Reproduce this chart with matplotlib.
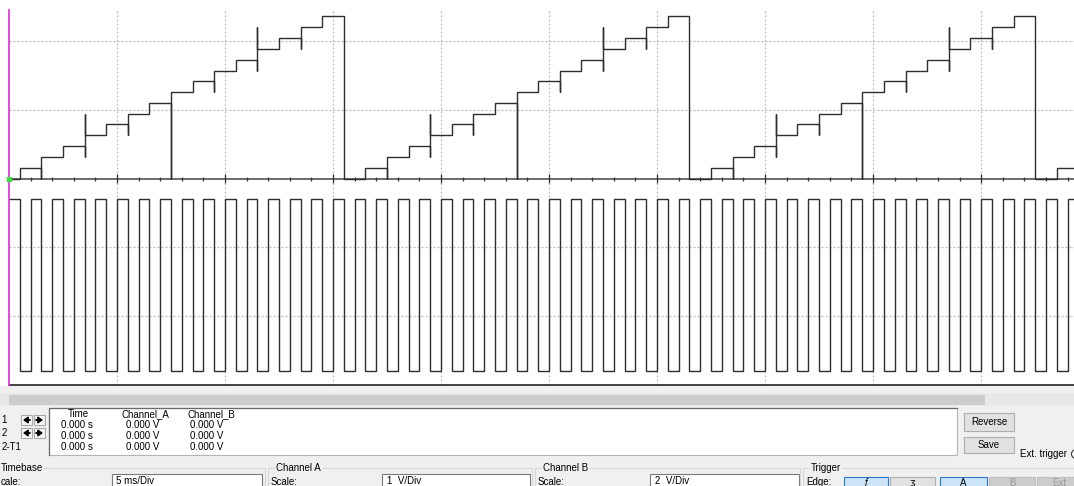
"""Oscilloscope capture: 4-bit DAC staircase (ch A) and its clock (ch B)."""

import matplotlib

matplotlib.use("Agg")
import matplotlib.pyplot as plt  # noqa: E402
import numpy as np  # noqa: E402
from matplotlib.patches import Circle, Rectangle  # noqa: E402

# ---- values ---------------------------------------------------------------
# DAC output levels (V) for codes 0..15
dac_levels = [0.00, 0.16, 0.31, 0.47, 0.63, 0.79, 0.94, 1.10,
              1.26, 1.42, 1.57, 1.73, 1.89, 2.04, 2.20, 2.36]
# glitch on each code step into level 1..15: lowest / highest code touched
glitch_lo = [0, 0, 2, 2, 4, 4, 6, 0, 8, 8, 10, 10, 12, 12, 14]
glitch_hi = [1, 2, 3, 6, 5, 6, 7, 8, 9, 10, 11, 14, 13, 14, 15]
first_edge_ms = 0.5
n_ramps = 4

clk_period_ms = 1.0
clk_high_v = 5.0
clk_low_v = 0.0

timebase_ms = 5.0     # ms/div
cha_scale = 1.0       # V/div
chb_scale = 2.0       # V/div
chb_pos = -2.8        # div
t_span_ms = 49.3

# row labels as visible (left edge of the window is cropped)
readout_rows = ["1", "2", "2-T1"]
readout_time = ["0.000 s", "0.000 s", "0.000 s"]
readout_cha = ["0.000 V", "0.000 V", "0.000 V"]
readout_chb = ["0.000 V", "0.000 V", "0.000 V"]

INK = "#2e2e2e"
GRID = "#bcbcbc"
UI_BG = "#f0f0f0"
FONT = "Liberation Sans"

W, H = 1074, 486
fig = plt.figure(figsize=(W / 100, H / 100), dpi=100)

# ---- instrument panel (pixel coords) ---------------------------------------
ui = fig.add_axes([0, 0, 1, 1])
ui.set_xlim(0, W)
ui.set_ylim(H, 0)
ui.axis("off")


def box(x0, y0, x1, y1, fc, ec, lw=0.8):
    ui.add_patch(Rectangle((x0, y0), x1 - x0, y1 - y0, facecolor=fc,
                           edgecolor=ec, linewidth=lw))


def txt(x, y, s, ha="left", color="black", size=7):
    ui.text(x, y, s, ha=ha, va="center", color=color, fontsize=size, family=FONT)


box(0, 386, W, H, UI_BG, "none", 0)
# scrollbar
box(0, 393, W, 406, "#e8e8e8", "none", 0)
box(9, 395, 985, 405, "#cdcdcd", "none", 0)

# cursor buttons + readout
arrow = dict(arrowstyle="-|>,head_length=0.25,head_width=0.18",
             lw=1.3, color="black", shrinkA=0, shrinkB=0)
for lab, y in zip(readout_rows, (420, 433, 447)):
    txt(1.5, y, lab)
for y in (420, 433):
    box(21, y - 5, 32, y + 5, "#f6f6f6", "#a8a8a8")
    box(34, y - 5, 45, y + 5, "#f6f6f6", "#a8a8a8")
    ui.annotate("", xy=(23, y), xytext=(30, y), arrowprops=arrow)
    ui.annotate("", xy=(43, y), xytext=(36, y), arrowprops=arrow)

box(49, 407.5, 957, 455, "white", "#b4b4b4")
ui.plot([49, 49, 957], [455, 407.5, 407.5], color="#6a6a6a", lw=0.9)
txt(78, 414, "Time", ha="center")
txt(145, 414, "Channel_A", ha="center")
txt(211, 414, "Channel_B", ha="center")
for i, y in enumerate((425, 436, 447)):
    txt(77, y, readout_time[i], ha="center")
    txt(143, y, readout_cha[i], ha="center")
    txt(207, y, readout_chb[i], ha="center")

box(964, 413, 1014, 431, "#e1e1e1", "#adadad")
txt(989, 422, "Reverse", ha="center")
box(964, 437, 1014, 453, "#e1e1e1", "#adadad")
txt(989, 445, "Save", ha="center")
txt(1020, 454, "Ext. trigger")
ui.add_patch(Circle((1076, 454), 4.5, facecolor="white", edgecolor="#333333", lw=0.8))

# group boxes
for x0, x1, lab in ((-2, 265, "Timebase"), (268, 532, "Channel A"),
                    (535, 800, "Channel B"), (803, W + 5, "Trigger")):
    ui.plot([x0, x0, x1, x1], [H + 2, 468, 468, H + 2], color="#d8d8d8", lw=0.8)
    t = ui.text(x0 + 8 if x0 > 0 else 1, 467.5, lab, ha="left", va="center",
                fontsize=7, family=FONT)
    t.set_bbox(dict(facecolor=UI_BG, edgecolor="none", pad=0.6))

txt(1, 481.5, "cale:")
box(112, 474, 262, 492, "white", "#7a7a7a")
txt(116, 481, f"{timebase_ms:g} ms/Div")
txt(271, 482, "Scale:")
box(382, 474, 530, 492, "white", "#7a7a7a")
txt(387, 481, f"{cha_scale:g}  V/Div")
txt(538, 482, "Scale:")
box(650, 474, 799, 492, "white", "#7a7a7a")
txt(655, 481, f"{chb_scale:g}  V/Div")
txt(806, 482, "Edge:")
box(844, 477, 888, 492, "#cce4f7", "#2a78c8")
txt(866, 483, "\u0192", ha="center")
box(890, 477, 935, 492, "#e1e1e1", "#adadad")
txt(912, 483, "\u0293", ha="center")
box(940, 477, 987, 492, "#cce4f7", "#2a78c8")
txt(963, 483, "A", ha="center")
box(989, 477, 1035, 492, "#cccccc", "#bfbfbf")
txt(1012, 483, "B", ha="center", color="#9a9a9a")
box(1037, 477, 1082, 492, "#cccccc", "#bfbfbf")
txt(1059, 483, "Ext", ha="center", color="#9a9a9a")

# ---- scope screen (x: ms, y: divisions) ------------------------------------
ax = fig.add_axes([9 / W, 101 / H, 1065 / W, 375 / H])
ax.set_xlim(0, t_span_ms)
ax.set_ylim(-3, 2.45)
for side in ("top", "right", "left"):
    ax.spines[side].set_visible(False)
ax.spines["bottom"].set_color("#222222")
ax.spines["bottom"].set_linewidth(1.2)
ax.set_xticks([])
ax.set_yticks([])

grid_kw = dict(color=GRID, lw=0.9, ls=(0, (1.6, 1.6)), zorder=1)
for gx in np.arange(timebase_ms, t_span_ms, timebase_ms):
    ax.axvline(gx, **grid_kw)
for gy in (-2, -1, 1, 2):
    ax.axhline(gy, **grid_kw)

# channel A zero line with time ticks
ax.axhline(0, color="#6a6a6a", lw=1.4, zorder=2)
minor = [t for t in range(1, int(t_span_ms) + 1) if t % timebase_ms]
major = list(np.arange(timebase_ms, t_span_ms, timebase_ms))
ax.vlines(minor, -0.03, 0.03, color="#333333", lw=0.9, zorder=2)
ax.vlines(major, -0.065, 0.065, color="#333333", lw=0.9, zorder=2)

# channel A: staircase with code-transition glitches
lv = np.array(dac_levels) / cha_scale
n_codes = len(dac_levels)
xs, ys = [0.0], [lv[0]]
for c in range(n_ramps):
    t0 = c * n_codes * clk_period_ms + first_edge_ms
    for k in range(1, n_codes):
        t = t0 + (k - 1) * clk_period_ms
        xs += [t, t, t, t]
        ys += [lv[k - 1], lv[glitch_lo[k - 1]], lv[glitch_hi[k - 1]], lv[k]]
    t = t0 + (n_codes - 1) * clk_period_ms
    xs += [t, t]
    ys += [lv[-1], lv[0]]
xs.append(t_span_ms + 2)
ys.append(ys[-1])
ax.plot(xs, ys, color=INK, lw=1.0, zorder=3, solid_joinstyle="miter")

# channel B: clock
edges = np.arange(0, t_span_ms + 2 * clk_period_ms, clk_period_ms / 2)
state = np.arange(len(edges)) % 2 == 0
v = np.where(state, clk_high_v, clk_low_v)
cx = np.repeat(edges, 2)[1:]
cy = chb_pos + np.repeat(v, 2)[:-1] / chb_scale
ax.plot(cx, cy, color=INK, lw=1.0, zorder=3, solid_joinstyle="miter")

# cursor T1/T2 at t=0 and trigger marker
ax.axvline(0, color="#e03ce0", lw=1.3, zorder=4, clip_on=False)
ax.plot([0], [0], "s", color="#3cdc3c", ms=2.2, zorder=5, clip_on=False)

fig.savefig("out.png", dpi=100, facecolor="white")
